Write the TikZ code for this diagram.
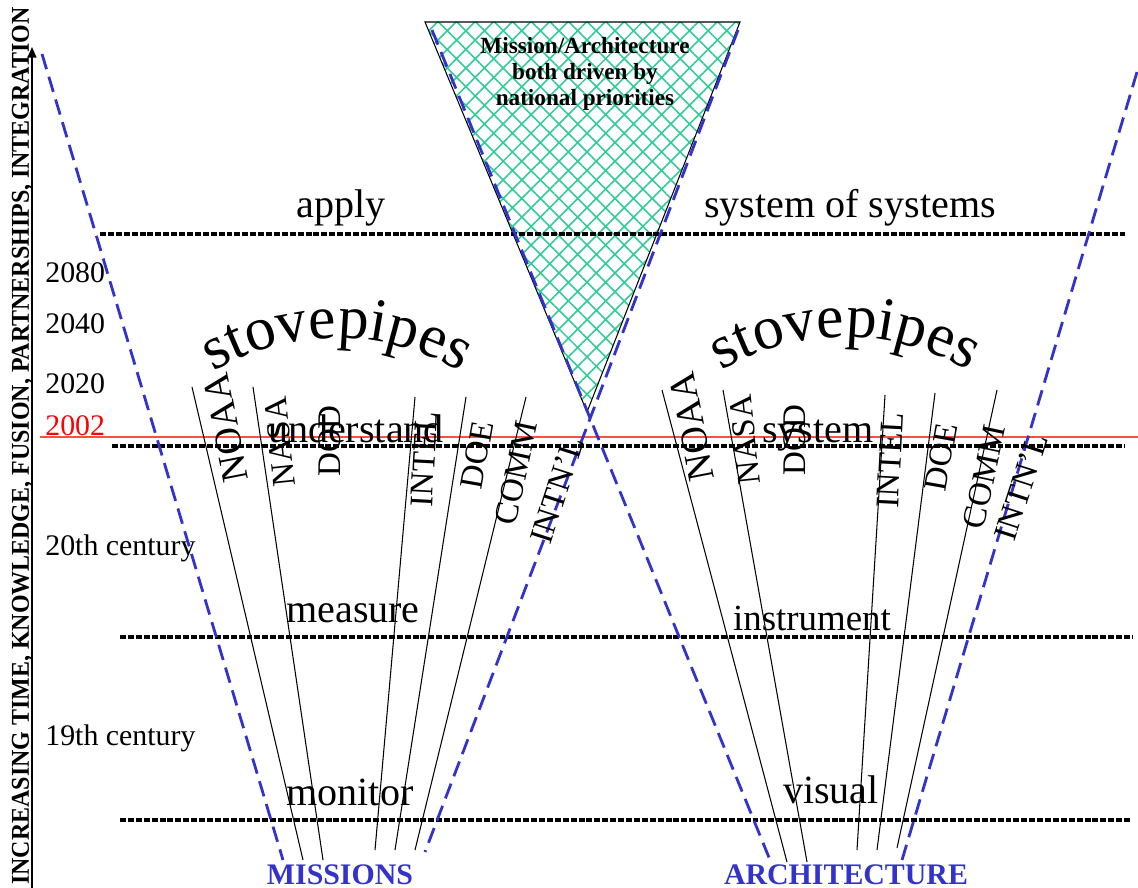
\documentclass[tikz,border=0pt]{standalone}
\usepackage{fontspec}
\setmainfont{Liberation Serif}
\usetikzlibrary{arrows.meta,patterns.meta,decorations.text}
\definecolor{hatchgreen}{RGB}{51,204,153}
\definecolor{veeblue}{RGB}{51,51,204}
\definecolor{nowred}{RGB}{255,80,60}
\tikzset{
  level/.style={draw=black,line width=2.4pt,dash pattern=on 3.4pt off 1.1pt},
  vee/.style={draw=veeblue,line width=1.6pt,dash pattern=on 9pt off 4.5pt},
  pipe/.style={draw=black,line width=0.6pt},
  stage/.style={font=\fontsize{22.8}{26}\selectfont,anchor=base,inner sep=0pt},
  year/.style={font=\fontsize{17}{20}\selectfont,anchor=base west,inner sep=0pt},
  agency/.style={font=\fontsize{18.8}{22}\selectfont,inner sep=0pt},
  side/.style={font=\bfseries\fontsize{17}{20}\selectfont,text=veeblue,anchor=base,inner sep=0pt},
}
\begin{document}
\begin{tikzpicture}[x=0.02cm,y=-0.02cm]
  \useasboundingbox (0,0) rectangle (1138,888);
  % national priorities funnel
  \fill[white] (425,22) -- (740,22) -- (587,412) -- cycle;
  \fill[pattern={Hatch[angle=45,distance=7.5pt,line width=0.9pt]},pattern color=hatchgreen]
    (425,22) -- (740,22) -- (587,412) -- cycle;
  \draw[line width=0.6pt] (425,22) -- (740,22) -- (587,412) -- cycle;
  \node[font=\bfseries\fontsize{13.2}{14.8}\selectfont,align=center,anchor=north,inner sep=0pt]
    (priorities) at (585,37) {Mission/Architecture\\both driven by\\national priorities};

  % time axis
  \draw[line width=0.9pt,-{Triangle[width=5pt,length=6pt]}] (32,888) -- (32,47);
  \node[rotate=90,anchor=base,inner sep=0pt] (axis) at (29,446)
    {\resizebox{17.55cm}{0.34cm}{\bfseries INCREASING TIME, KNOWLEDGE, FUSION, PARTNERSHIPS, INTEGRATION}};
  \node[year] (y2080) at (45,282) {2080};
  \node[year] (y2040) at (45,333) {2040};
  \node[year] (y2020) at (45,393) {2020};
  \node[year,text=red] (y2002) at (45,435) {2002};
  \node[year] (c20) at (45,555) {20th century};
  \node[year] (c19) at (45,745) {19th century};
  \draw[nowred,line width=0.8pt] (40,437) -- (1138,437);

  % stovepipe lines
  \draw[pipe] (192,387) -- (303,860);
  \draw[pipe] (253,387) -- (323,860);
  \draw[pipe] (415,397) -- (375,850);
  \draw[pipe] (466,397) -- (395,850);
  \draw[pipe] (526,397) -- (415,850);
  \draw[pipe] (662,390) -- (787,862);
  \draw[pipe] (723,390) -- (807,862);
  \draw[pipe] (885,395) -- (857,850);
  \draw[pipe] (935,393) -- (877,850);
  \draw[pipe] (997,390) -- (897,848);

  % levels
  \draw[level] (100,234) -- (1125,234);
  \draw[level] (112,446) -- (1125,446);
  \draw[level] (120,637) -- (1133,637);
  \draw[level] (120,820) -- (1131,820);

  % mission and architecture vees
  \draw[vee] (42,54) -- (283,860);
  \draw[vee] (738,30) -- (425,852);
  \draw[vee] (432,30) -- (770,860);
  \draw[vee] (1137,72) -- (902,860);

  \node[stage] (apply) at (341,218) {apply};
  \node[stage] (sos) at (850,218) {system of systems};
  \node[stage] (understand) at (356,442) {understand};
  \node[stage] (system) at (818,442) {system};
  \node[stage] (measure) at (353,622) {measure};
  \node[stage,font=\fontsize{21}{24}\selectfont] (instrument) at (812,630) {instrument};
  \node[stage] (monitor) at (350,805) {monitor};
  \node[stage] (visual) at (831,803) {visual};

  \path[decorate,decoration={text along path,text align=center,
      text={|\rmfamily\fontsize{35}{40}\selectfont|stovepipes}}]
    (337,578) ++(-124:240) arc[start angle=-124,end angle=-56,radius=240];
  \path[decorate,decoration={text along path,text align=center,
      text={|\rmfamily\fontsize{35}{40}\selectfont|stovepipes}}]
    (845,577) ++(-124:240) arc[start angle=-124,end angle=-56,radius=240];

  \begin{scope}
    \node[agency,font=\fontsize{21.6}{24}\selectfont,rotate=101] (noaaL) at (226,428) {NOAA};
    \node[agency,rotate=96] (nasaL) at (280,442) {NASA};
    \node[agency,rotate=90] (dodL) at (330,441) {DOD};
    \node[agency,rotate=87] (intelL) at (424,459) {INTEL};
    \node[agency,rotate=80] (doeL) at (477,455) {DOE};
    \node[agency,rotate=78] (commL) at (516,473) {COMM};
    \node[agency,rotate=72] (intlL) at (557,490) {INTN'L};
  \end{scope}
  \begin{scope}
    \node[agency,font=\fontsize{21.6}{24}\selectfont,rotate=101] (noaaR) at (692,427) {NOAA};
    \node[agency,rotate=96] (nasaR) at (745,440) {NASA};
    \node[agency,rotate=90] (dodR) at (795,440) {DOD};
    \node[agency,rotate=87] (intelR) at (890,460) {INTEL};
    \node[agency,rotate=80] (doeR) at (941,457) {DOE};
    \node[agency,rotate=78] (commR) at (984,477) {COMM};
    \node[agency,rotate=72] (intlR) at (1021,487) {INTN'L};
  \end{scope}

  \node[side] (missions) at (340,884) {MISSIONS};
  \node[side] (architecture) at (846,884) {ARCHITECTURE};
\end{tikzpicture}
\end{document}
